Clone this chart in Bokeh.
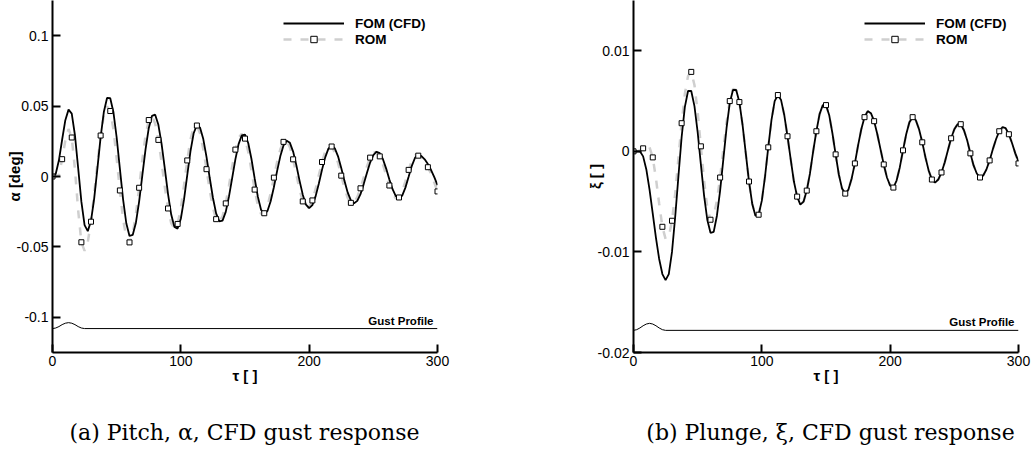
from bokeh.plotting import figure
from bokeh.layouts import row, column
from bokeh.models import Range1d, FixedTicker, Legend, LegendItem, Label
from bokeh.embed import file_html
from bokeh.resources import INLINE

# Non-dimensional time samples (every 2.5 units from 0 to 300)
tau = [i * 2.5 for i in range(121)]

# Pitch response alpha [deg]
pitch_fom = [
    0.0, 0.0018, 0.0115, 0.0261, 0.040, 0.0475, 0.0447, 0.0293, 0.006, -0.0179,
    -0.0345, -0.0388, -0.0316, -0.0155, 0.0058, 0.0279, 0.0458, 0.0558, 0.0556, 0.0456,
    0.0277, 0.0056, -0.0162, -0.0332, -0.0422, -0.0415, -0.0328, -0.0178, 0.0008, 0.0193,
    0.0343, 0.043, 0.0439, 0.0367, 0.0231, 0.0057, -0.0123, -0.027, -0.0359, -0.037,
    -0.030, -0.0163, 0.001, 0.0179, 0.0307, 0.0365, 0.0346, 0.0266, 0.014, -0.0009,
    -0.0151, -0.0262, -0.0319, -0.0313, -0.0251, -0.0143, -0.0011, 0.0122, 0.023, 0.0292,
    0.0298, 0.0238, 0.0126, -0.0012, -0.0143, -0.0236, -0.027, -0.0245, -0.0176, -0.0076,
    0.0038, 0.0143, 0.022, 0.0254, 0.0239, 0.0177, 0.0081, -0.0029, -0.0129, -0.020,
    -0.0225, -0.0203, -0.0141, -0.0052, 0.0047, 0.0136, 0.0198, 0.022, 0.020, 0.0143,
    0.0061, -0.0031, -0.0113, -0.017, -0.019, -0.0173, -0.0125, -0.0054, 0.0025, 0.0099,
    0.0152, 0.0176, 0.0166, 0.0123, 0.0056, -0.0021, -0.009, -0.0139, -0.0157, -0.0136,
    -0.0079, -0.0002, 0.0076, 0.0133, 0.0154, 0.0145, 0.0122, 0.0088, 0.0046, -0.0005,
    -0.0062,
]
pitch_rom = [
    0.0, 0.0, 0.001, 0.0123, 0.0255, 0.0337, 0.0277, 0.0051, -0.0241, -0.0467,
    -0.0528, -0.0465, -0.0321, -0.0124, 0.0094, 0.0291, 0.0435, 0.0498, 0.0465, 0.0333,
    0.0129, -0.0099, -0.0303, -0.0435, -0.0468, -0.0406, -0.0268, -0.008, 0.0119, 0.0291,
    0.0401, 0.0429, 0.0376, 0.026, 0.010, -0.0074, -0.0227, -0.0332, -0.037, -0.0337,
    -0.0224, -0.0061, 0.0114, 0.0263, 0.0352, 0.0362, 0.0305, 0.0194, 0.0052, -0.0097,
    -0.0223, -0.0303, -0.0323, -0.0282, -0.0191, -0.0065, 0.0071, 0.0191, 0.0274, 0.0303,
    0.0269, 0.0176, 0.0045, -0.0093, -0.0205, -0.0265, -0.0261, -0.0209, -0.0119, -0.0008,
    0.0103, 0.0194, 0.0246, 0.0251, 0.0207, 0.0122, 0.0015, -0.0092, -0.0177, -0.0221,
    -0.0217, -0.017, -0.009, 0.0008, 0.0103, 0.0178, 0.0217, 0.0213, 0.0169, 0.0096,
    0.0006, -0.0082, -0.0151, -0.0187, -0.0184, -0.0147, -0.0084, -0.0007, 0.0071, 0.0134,
    0.0171, 0.0174, 0.0143, 0.0084, 0.001, -0.0064, -0.0123, -0.0154, -0.0149, -0.0106,
    -0.0034, 0.0047, 0.0114, 0.015, 0.0148, 0.0133, 0.0105, 0.0066, 0.0018, -0.0043,
    -0.0106,
]

# Plunge response xi [ ]
plunge_fom = [
    0.0, 0.0, 0.0, -0.0005, -0.0018, -0.0038, -0.0062, -0.0086, -0.0107, -0.0122,
    -0.0128, -0.0122, -0.010, -0.0065, -0.0025, 0.0014, 0.0044, 0.006, 0.006, 0.0045,
    0.0019, -0.0013, -0.0044, -0.0068, -0.0081, -0.008, -0.0064, -0.0039, -0.0008, 0.0023,
    0.0048, 0.0061, 0.0061, 0.0049, 0.0026, -0.0002, -0.003, -0.0052, -0.0064, -0.0063,
    -0.0049, -0.0025, 0.0004, 0.0031, 0.005, 0.0056, 0.0051, 0.0036, 0.0015, -0.0008,
    -0.003, -0.0045, -0.0053, -0.005, -0.0039, -0.0022, 0.0, 0.002, 0.0037, 0.0046,
    0.0046, 0.0036, 0.0018, -0.0003, -0.0023, -0.0037, -0.0042, -0.0038, -0.0027, -0.0012,
    0.0006, 0.0022, 0.0034, 0.004, 0.0038, 0.003, 0.0017, 0.0002, -0.0013, -0.0026,
    -0.0034, -0.0036, -0.0029, -0.0016, 0.0001, 0.0017, 0.0029, 0.0034, 0.0031, 0.0022,
    0.0009, -0.0006, -0.0019, -0.0028, -0.0031, -0.0028, -0.0021, -0.0011, 0.0001, 0.0013,
    0.0022, 0.0027, 0.0027, 0.0021, 0.0011, -0.0002, -0.0014, -0.0022, -0.0026, -0.0024,
    -0.0018, -0.0009, 0.0002, 0.0012, 0.002, 0.0024, 0.0023, 0.0017, 0.0008, -0.0002,
    -0.001,
]
plunge_rom = [
    0.0, 0.0, 0.0001, 0.0003, 0.0004, 0.0004, -0.0006, -0.0027, -0.0052, -0.0075,
    -0.0087, -0.0085, -0.0069, -0.0042, -0.0007, 0.0028, 0.0057, 0.0075, 0.0079, 0.0066,
    0.0039, 0.0005, -0.0029, -0.0056, -0.0068, -0.0064, -0.0049, -0.0026, 0.0002, 0.0029,
    0.005, 0.0062, 0.0061, 0.0049, 0.0026, -0.0002, -0.003, -0.0052, -0.0064, -0.0063,
    -0.0049, -0.0025, 0.0004, 0.0031, 0.005, 0.0056, 0.0051, 0.0036, 0.0015, -0.0008,
    -0.003, -0.0045, -0.0053, -0.005, -0.0039, -0.0022, 0.0, 0.002, 0.0037, 0.0046,
    0.0046, 0.0036, 0.0018, -0.0003, -0.0023, -0.0037, -0.0042, -0.0038, -0.0027, -0.0012,
    0.0006, 0.0022, 0.0034, 0.004, 0.0038, 0.003, 0.0017, 0.0002, -0.0013, -0.0026,
    -0.0034, -0.0036, -0.0029, -0.0016, 0.0001, 0.0017, 0.0029, 0.0034, 0.0031, 0.0022,
    0.0009, -0.0006, -0.0019, -0.0028, -0.0031, -0.0028, -0.0021, -0.0011, 0.0001, 0.0013,
    0.0022, 0.0027, 0.0027, 0.0021, 0.0011, -0.0002, -0.0014, -0.0022, -0.0026, -0.0024,
    -0.0018, -0.0009, 0.0002, 0.0012, 0.002, 0.0024, 0.0023, 0.0017, 0.0008, -0.0002,
    -0.0012,
]

# Gust profile sketch (1-cos gust over the first 25 time units), drawn at the foot of each panel
gust_tau = [0, 2.5, 5, 7.5, 10, 12.5, 15, 17.5, 20, 22.5, 25, 300]
gust_pitch = [-0.108, -0.1076, -0.1066, -0.1052, -0.1042, -0.1038,
              -0.1042, -0.1052, -0.1066, -0.1076, -0.108, -0.108]
gust_plunge = [-0.0178, -0.01773, -0.01756, -0.01734, -0.01717, -0.0171,
               -0.01717, -0.01734, -0.01756, -0.01773, -0.0178, -0.0178]

x_ticks = [0, 100, 200, 300]
pitch_ticks = [-0.1, -0.05, 0, 0.05, 0.1]
pitch_tick_labels = ["-0.1", "-0.05", "0", "0.05", "0.1"]
plunge_ticks = [-0.02, -0.01, 0, 0.01]
plunge_tick_labels = ["-0.02", "-0.01", "0", "0.01"]

captions = ["(a) Pitch, α, CFD gust response", "(b) Plunge, ξ, CFD gust response"]

SANS = "Liberation Sans"
SERIF = "DejaVu Serif"

PANEL_W = 518
PLOT_H = 395
CAPTION_H = 57


def make_panel(y_range, y_ticks, y_tick_labels, y_title, fom, rom, gust,
               border_left, border_right):
    p = figure(width=PANEL_W, height=PLOT_H, title=None,
               x_range=Range1d(0, 300), y_range=Range1d(*y_range),
               output_backend="svg", toolbar_location=None,
               min_border_left=border_left, min_border_right=border_right,
               min_border_top=0, min_border_bottom=43)
    p.background_fill_color = "white"
    p.border_fill_color = "white"
    p.outline_line_color = None
    p.grid.visible = False

    for ax in (p.xaxis[0], p.yaxis[0]):
        ax.axis_line_color = "black"
        ax.axis_line_width = 2
        ax.major_tick_line_color = "black"
        ax.major_tick_line_width = 2
        ax.major_tick_in = 8
        ax.major_tick_out = 0
        ax.minor_tick_line_color = None
        ax.major_label_text_font = SANS
        ax.major_label_text_font_size = "14px"
        ax.major_label_text_color = "black"
        ax.axis_label_text_font = SANS
        ax.axis_label_text_font_style = "bold"
        ax.axis_label_text_font_size = "15px"
        ax.axis_label_text_color = "black"

    p.xaxis.ticker = FixedTicker(ticks=x_ticks)
    p.xaxis.major_label_standoff = 3
    p.xaxis.axis_label = "τ [ ]"
    p.xaxis.axis_label_standoff = -2

    p.yaxis.ticker = FixedTicker(ticks=y_ticks)
    p.yaxis.major_label_overrides = {t: s for t, s in zip(y_ticks, y_tick_labels)}
    p.yaxis.major_label_standoff = 4
    p.yaxis.axis_label = y_title
    p.yaxis.axis_label_standoff = -9

    # gust sketch
    p.line(gust_tau, gust, line_color="black", line_width=1)
    p.add_layout(Label(x=gust_tau[-1], y=gust[-1], text="Gust Profile",
                       text_align="right", text_baseline="bottom",
                       x_offset=-4, y_offset=2,
                       text_font=SANS, text_font_style="bold",
                       text_font_size="11.5px", text_color="black"))

    rom_line = p.line(tau, rom, line_color="#cfcfcf", line_width=2.5, line_dash="8 9")
    fom_line = p.line(tau, fom, line_color="black", line_width=1.8)
    rom_pts = p.scatter(tau[::3], rom[::3], marker="square", size=5,
                        fill_color="white", line_color="black", line_width=1)

    legend = Legend(items=[LegendItem(label="FOM (CFD)", renderers=[fom_line]),
                           LegendItem(label="ROM", renderers=[rom_line, rom_pts])],
                    location=(231, 305), orientation="vertical",
                    glyph_width=61, glyph_height=16, label_height=16,
                    label_standoff=11, spacing=0, padding=0, margin=0,
                    border_line_color=None, background_fill_alpha=0,
                    label_text_font=SANS, label_text_font_style="bold",
                    label_text_font_size="13.5px", label_text_color="black")
    p.add_layout(legend)
    return p


def make_caption(text, centre_x):
    # a bare strip that only carries the sub-figure caption
    c = figure(width=PANEL_W, height=CAPTION_H, title=None,
               x_range=Range1d(0, PANEL_W), y_range=Range1d(0, CAPTION_H),
               output_backend="svg", toolbar_location=None,
               x_axis_location=None, y_axis_location=None,
               min_border_left=0, min_border_right=0,
               min_border_top=0, min_border_bottom=0)
    c.outline_line_color = None
    c.grid.visible = False
    c.background_fill_color = "white"
    c.border_fill_color = "white"
    c.add_layout(Label(x=centre_x, y=20, x_units="screen", y_units="screen",
                       text=text, text_align="center", text_baseline="middle",
                       text_font=SERIF, text_font_size="22px", text_color="black"))
    return c


p_pitch = make_panel((-0.125, 0.125), pitch_ticks, pitch_tick_labels, "α [deg]",
                     pitch_fom, pitch_rom, gust_pitch, 52, 81)
p_plunge = make_panel((-0.02, 0.015), plunge_ticks, plunge_tick_labels, "ξ [ ]",
                      plunge_fom, plunge_rom, gust_plunge, 115, 18)

cap_a = make_caption(captions[0], 244)
cap_b = make_caption(captions[1], 312)

layout = column(row(p_pitch, p_plunge), row(cap_a, cap_b))
open("out.html", "w").write(file_html(layout, INLINE))
